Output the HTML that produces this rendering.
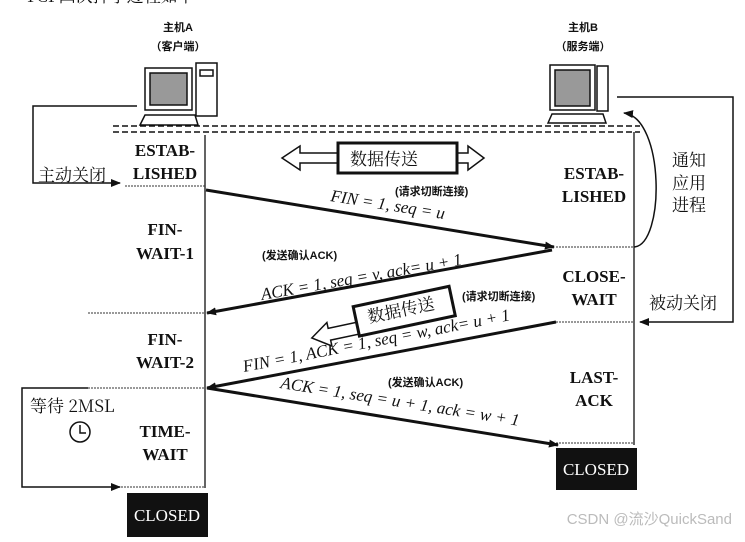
<!DOCTYPE html>
<html><head><meta charset="utf-8"><style>
body{margin:0;background:#fff;width:745px;height:537px;overflow:hidden}
text{font-family:"Liberation Serif","Noto Serif CJK SC",serif;fill:#111}
.s{font-family:"Liberation Sans","Noto Sans CJK SC",sans-serif;font-weight:bold;font-size:11px}
.st{font-size:17px;font-weight:bold;text-anchor:middle}
.lb{font-size:17px;font-style:italic}
.cn{font-family:"Noto Serif CJK SC",serif;font-size:17px}
</style></head><body>
<svg width="745" height="537" viewBox="0 0 745 537">
<defs><marker id="a" markerWidth="10" markerHeight="8" refX="9" refY="4" orient="auto" markerUnits="userSpaceOnUse"><path d="M0,0 L10,4 L0,8z" fill="#111"/></marker></defs>
<text x="25" y="2" class="cn" font-size="14">TCP四次挥手过程如下</text>
<text x="178" y="31" class="s" text-anchor="middle" font-size="12">主机A</text>
<text x="178" y="50" class="s" text-anchor="middle" font-size="12">（客户端）</text>
<text x="583" y="31" class="s" text-anchor="middle" font-size="12">主机B</text>
<text x="583" y="50" class="s" text-anchor="middle" font-size="12">（服务端）</text>
<g stroke="#111" fill="none" stroke-width="1.5">
<rect x="145" y="68" width="47" height="42"/><rect x="150" y="73" width="37" height="32" fill="#999"/>
<rect x="196" y="63" width="21" height="53"/><rect x="200" y="70" width="13" height="6"/>
<path d="M140 125 L145 115 L195 115 L198 125 Z"/>
<rect x="550" y="65" width="45" height="45"/><rect x="555" y="70" width="35" height="36" fill="#999"/>
<rect x="597" y="66" width="11" height="45"/>
<path d="M548 123 L552 114 L603 114 L606 123 Z"/>
</g>
<g stroke="#111" stroke-width="1.5" stroke-dasharray="6,3">
<line x1="113" y1="126" x2="640" y2="126"/><line x1="113" y1="132" x2="640" y2="132"/>
</g>
<g stroke="#111" stroke-width="1.3">
<line x1="205" y1="135" x2="205" y2="488"/><line x1="634" y1="132" x2="634" y2="445"/>
</g>
<g stroke="#333" stroke-width="1" stroke-dasharray="2,1">
<line x1="125" y1="186" x2="205" y2="186"/><line x1="88" y1="313" x2="205" y2="313"/>
<line x1="88" y1="388" x2="205" y2="388"/><line x1="88" y1="487" x2="205" y2="487"/>
<line x1="556" y1="247" x2="634" y2="247"/><line x1="556" y1="322" x2="634" y2="322"/>
<line x1="556" y1="443" x2="634" y2="443"/>
</g>
<text x="165" y="156" class="st">ESTAB-</text><text x="165" y="179" class="st">LISHED</text>
<text x="165" y="235" class="st">FIN-</text><text x="165" y="259" class="st">WAIT-1</text>
<text x="165" y="345" class="st">FIN-</text><text x="165" y="368" class="st">WAIT-2</text>
<text x="165" y="437" class="st">TIME-</text><text x="165" y="460" class="st">WAIT</text>
<text x="594" y="179" class="st">ESTAB-</text><text x="594" y="202" class="st">LISHED</text>
<text x="594" y="282" class="st">CLOSE-</text><text x="594" y="305" class="st">WAIT</text>
<text x="594" y="383" class="st">LAST-</text><text x="594" y="406" class="st">ACK</text>
<rect x="127" y="493" width="81" height="44" fill="#111"/><text x="167" y="521" class="st" style="fill:#fff;font-weight:normal" font-size="17">CLOSED</text>
<rect x="556" y="448" width="81" height="42" fill="#111"/><text x="596" y="475" class="st" style="fill:#fff;font-weight:normal" font-size="17">CLOSED</text>
<g stroke="#111" stroke-width="3" marker-end="url(#a)">
<line x1="206" y1="190" x2="554" y2="247"/>
<line x1="552" y1="250" x2="207" y2="313"/>
<line x1="556" y1="322" x2="207" y2="388"/>
<line x1="207" y1="388" x2="558" y2="445"/>
</g>
<text class="lb" transform="translate(330,201) rotate(9)">FIN = 1, seq = u</text>
<text class="s" x="395" y="195">(请求切断连接)</text>
<text class="lb" transform="translate(262,300) rotate(-10)">ACK = 1, seq = v, ack= u + 1</text>
<text class="s" x="262" y="259">(发送确认ACK)</text>
<text class="lb" transform="translate(244,372) rotate(-11)">FIN = 1, ACK = 1, seq = w, ack= u + 1</text>
<text class="s" x="462" y="300">(请求切断连接)</text>
<text class="lb" transform="translate(280,388) rotate(9)">ACK = 1, seq = u + 1, ack = w + 1</text>
<text class="s" x="388" y="386">(发送确认ACK)</text>
<g stroke="#111" fill="#fff" stroke-width="1.5">
<path d="M282 158 L300 146 L300 153 L340 153 L340 163 L300 163 L300 170 Z"/>
<path d="M455 153 L468 153 L468 146 L484 158 L468 170 L468 163 L455 163 Z"/>
<rect x="338" y="143" width="119" height="30" stroke-width="3"/>
<g transform="rotate(-12 405 310)">
<path d="M308 318 L326 306 L326 312 L360 312 L360 324 L326 324 L326 330 Z"/>
<rect x="355" y="296" width="98" height="30" stroke-width="3"/>
</g>
</g>
<text class="cn" x="350" y="165" font-size="18">数据传送</text>
<text class="cn" transform="translate(369,323) rotate(-12)" font-size="18">数据传送</text>
<g stroke="#111" fill="none" stroke-width="1.5">
<polyline points="137,106 33,106 33,183 120,183" marker-end="url(#a)"/>
<polyline points="617,97 733,97 733,322 640,322" marker-end="url(#a)"/>
<path d="M634 247 C665 245 665 118 624 113" marker-end="url(#a)"/>
<polyline points="88,388 22,388 22,487 120,487" marker-end="url(#a)"/>
<circle cx="80" cy="432" r="10"/><path d="M80 425 L80 433 L86 433"/>
</g>
<text class="cn" x="38" y="181">主动关闭</text>
<text class="cn" x="649" y="309">被动关闭</text>
<text class="cn" x="672" y="166">通知</text><text class="cn" x="672" y="189">应用</text><text class="cn" x="672" y="211">进程</text>
<text class="cn" x="30" y="412">等待 2MSL</text>
<text x="732" y="524" text-anchor="end" style="font-family:'Liberation Sans','Noto Sans CJK SC',sans-serif;font-size:15px;fill:#bbb">CSDN @流沙QuickSand</text>
</svg>
</body></html>
